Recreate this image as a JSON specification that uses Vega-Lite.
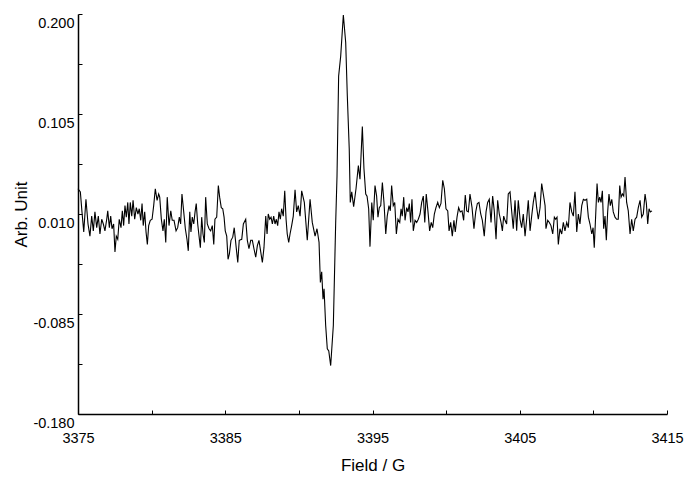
{
  "$schema": "https://vega.github.io/schema/vega-lite/v6.json",
  "width": 589,
  "height": 400,
  "autosize": "none",
  "padding": {"left": 78, "top": 14, "right": 24, "bottom": 65},
  "config": {"view": {"stroke": null}, "font": "Liberation Sans"},
  "data": {"values": [
    {"g":3375.00,"v":0.034},{"g":3375.16,"v":0.031},{"g":3375.27,"v":0.012},{"g":3375.39,"v":-0.007},{"g":3375.54,"v":0.024},{"g":3375.68,"v":0.0005},{"g":3375.81,"v":-0.011},{"g":3375.93,"v":0.008},{"g":3376.04,"v":-0.006},{"g":3376.15,"v":0.012},{"g":3376.27,"v":-0.003},{"g":3376.38,"v":0.008},{"g":3376.49,"v":-0.009},{"g":3376.61,"v":0.005},{"g":3376.72,"v":0.0005},{"g":3376.83,"v":-0.006},{"g":3376.95,"v":0.005},{"g":3377.02,"v":0.013},{"g":3377.13,"v":-0.003},{"g":3377.22,"v":0.008},{"g":3377.31,"v":-0.004},{"g":3377.42,"v":0.0005},{"g":3377.51,"v":-0.026},{"g":3377.60,"v":-0.011},{"g":3377.70,"v":-0.014},{"g":3377.80,"v":0.005},{"g":3377.92,"v":-0.003},{"g":3378.01,"v":0.013},{"g":3378.10,"v":-0.001},{"g":3378.19,"v":0.018},{"g":3378.28,"v":0.007},{"g":3378.38,"v":0.021},{"g":3378.46,"v":0.0005},{"g":3378.55,"v":0.021},{"g":3378.65,"v":0.008},{"g":3378.74,"v":0.023},{"g":3378.85,"v":0.005},{"g":3378.96,"v":0.016},{"g":3379.07,"v":0.010},{"g":3379.16,"v":0.015},{"g":3379.26,"v":0.004},{"g":3379.35,"v":0.020},{"g":3379.43,"v":-0.001},{"g":3379.53,"v":0.012},{"g":3379.62,"v":-0.007},{"g":3379.71,"v":-0.019},{"g":3379.80,"v":-0.001},{"g":3379.91,"v":0.004},{"g":3380.03,"v":0.005},{"g":3380.14,"v":0.018},{"g":3380.25,"v":0.034},{"g":3380.37,"v":0.023},{"g":3380.48,"v":0.029},
    {"g":3380.55,"v":0.026},{"g":3380.66,"v":0.005},{"g":3380.77,"v":-0.006},{"g":3380.86,"v":0.005},{"g":3380.96,"v":-0.017},{"g":3381.06,"v":0.026},{"g":3381.18,"v":-0.001},{"g":3381.30,"v":0.013},{"g":3381.40,"v":0.004},{"g":3381.52,"v":0.004},{"g":3381.66,"v":-0.006},{"g":3381.77,"v":-0.003},{"g":3381.88,"v":0.007},{"g":3381.97,"v":0.0005},{"g":3382.06,"v":0.029},{"g":3382.18,"v":0.012},{"g":3382.29,"v":-0.004},{"g":3382.40,"v":-0.014},{"g":3382.49,"v":-0.025},{"g":3382.59,"v":0.012},{"g":3382.67,"v":-0.007},{"g":3382.76,"v":0.007},{"g":3382.86,"v":0.0005},{"g":3382.95,"v":0.012},{"g":3383.03,"v":0.020},{"g":3383.13,"v":0.0005},{"g":3383.22,"v":-0.011},{"g":3383.31,"v":-0.022},{"g":3383.40,"v":0.007},{"g":3383.49,"v":-0.009},{"g":3383.58,"v":-0.017},{"g":3383.67,"v":0.026},{"g":3383.78,"v":0.0005},{"g":3383.90,"v":-0.004},{"g":3384.01,"v":-0.006},{"g":3384.12,"v":-0.001},{"g":3384.22,"v":-0.019},{"g":3384.30,"v":0.005},{"g":3384.42,"v":0.007},{"g":3384.53,"v":0.037},{"g":3384.62,"v":0.026},{"g":3384.73,"v":0.016},{"g":3384.83,"v":0.015},{"g":3384.92,"v":0.007},{"g":3385.00,"v":-0.006},{"g":3385.10,"v":-0.011},{"g":3385.19,"v":-0.033},{"g":3385.28,"v":-0.028},{"g":3385.39,"v":-0.015},{"g":3385.51,"v":-0.012},{"g":3385.61,"v":-0.003},{"g":3385.73,"v":-0.020},{"g":3385.85,"v":-0.036},{"g":3385.95,"v":-0.015},
    {"g":3386.12,"v":-0.014},{"g":3386.23,"v":0.0005},{"g":3386.39,"v":0.005},{"g":3386.50,"v":-0.015},{"g":3386.61,"v":-0.023},{"g":3386.73,"v":-0.015},{"g":3386.84,"v":-0.015},{"g":3386.95,"v":-0.023},{"g":3387.07,"v":-0.031},{"g":3387.18,"v":-0.020},{"g":3387.29,"v":-0.015},{"g":3387.41,"v":-0.026},{"g":3387.52,"v":-0.036},{"g":3387.63,"v":-0.022},{"g":3387.75,"v":0.008},{"g":3387.84,"v":-0.009},{"g":3387.92,"v":0.010},{"g":3388.02,"v":0.005},{"g":3388.11,"v":0.007},{"g":3388.20,"v":0.0005},{"g":3388.29,"v":0.008},{"g":3388.38,"v":0.0005},{"g":3388.47,"v":0.005},{"g":3388.56,"v":-0.001},{"g":3388.65,"v":0.012},{"g":3388.74,"v":0.005},{"g":3388.83,"v":0.015},{"g":3388.94,"v":0.008},{"g":3389.04,"v":0.032},{"g":3389.13,"v":0.005},{"g":3389.21,"v":-0.009},{"g":3389.31,"v":-0.017},{"g":3389.40,"v":-0.009},{"g":3389.51,"v":-0.001},{"g":3389.62,"v":0.008},{"g":3389.74,"v":0.033},{"g":3389.85,"v":0.012},{"g":3389.96,"v":0.018},{"g":3390.08,"v":0.008},{"g":3390.19,"v":0.032},{"g":3390.37,"v":0.021},{"g":3390.57,"v":-0.015},{"g":3390.76,"v":0.024},{"g":3390.91,"v":0.002},{"g":3391.10,"v":-0.011},{"g":3391.23,"v":-0.004},{"g":3391.37,"v":-0.017},{"g":3391.46,"v":-0.055},{"g":3391.55,"v":-0.045},{"g":3391.64,"v":-0.071},{"g":3391.71,"v":-0.061},{"g":3391.82,"v":-0.096},{"g":3391.93,"v":-0.118},{"g":3392.03,"v":-0.120},{"g":3392.16,"v":-0.134},{"g":3392.34,"v":-0.096},{"g":3392.50,"v":0.002},{"g":3392.59,"v":0.046},{"g":3392.70,"v":0.141},{"g":3392.84,"v":0.160},{"g":3393.02,"v":0.199},{"g":3393.18,"v":0.173},{"g":3393.29,"v":0.122},{"g":3393.42,"v":0.072},{"g":3393.49,"v":0.021},{"g":3393.59,"v":0.031},{"g":3393.72,"v":0.017},{"g":3393.88,"v":0.034},{"g":3394.04,"v":0.056},{"g":3394.15,"v":0.043},{"g":3394.31,"v":0.093},{"g":3394.42,"v":0.053},{"g":3394.54,"v":0.029},{"g":3394.63,"v":0.027},{"g":3394.74,"v":0.015},{"g":3394.83,"v":-0.021},{"g":3394.95,"v":0.021},{"g":3395.05,"v":0.004},{"g":3395.17,"v":0.037},{"g":3395.28,"v":0.027},{"g":3395.37,"v":0.007},{"g":3395.46,"v":0.016},{"g":3395.56,"v":0.018},{"g":3395.67,"v":0.040},{"g":3395.78,"v":0.021},{"g":3395.90,"v":-0.009},{"g":3396.00,"v":0.008},{"g":3396.12,"v":0.018},{"g":3396.21,"v":0.013},{"g":3396.30,"v":0.037},{"g":3396.41,"v":0.018},{"g":3396.51,"v":0.021},{"g":3396.62,"v":-0.009},{"g":3396.73,"v":0.005},{"g":3396.85,"v":0.002},{"g":3396.94,"v":0.015},{"g":3397.02,"v":0.008},{"g":3397.12,"v":0.026},{"g":3397.21,"v":0.004},{"g":3397.32,"v":0.016},{"g":3397.41,"v":0.012},{"g":3397.50,"v":0.020},{"g":3397.59,"v":0.002},{"g":3397.68,"v":0.024},{"g":3397.77,"v":-0.006},{"g":3397.89,"v":0.004},{"g":3398.00,"v":0.002},{"g":3398.11,"v":0.005},{"g":3398.23,"v":0.010},{"g":3398.34,"v":0.021},{"g":3398.45,"v":0.027},{"g":3398.55,"v":0.002},{"g":3398.65,"v":0.029},{"g":3398.77,"v":0.012},{"g":3398.88,"v":-0.006},{"g":3398.99,"v":0.002},{"g":3399.09,"v":-0.003},{"g":3399.20,"v":0.010},{"g":3399.31,"v":0.016},{"g":3399.43,"v":0.021},{"g":3399.54,"v":0.016},{"g":3399.65,"v":0.020},{"g":3399.77,"v":0.042},{"g":3399.88,"v":0.034},{"g":3399.99,"v":0.015},{"g":3400.11,"v":0.013},{"g":3400.20,"v":-0.006},{"g":3400.31,"v":0.002},{"g":3400.42,"v":-0.011},{"g":3400.53,"v":0.004},{"g":3400.62,"v":-0.007},{"g":3400.74,"v":0.007},{"g":3400.85,"v":0.016},{"g":3400.96,"v":0.012},{"g":3401.08,"v":0.013},{"g":3401.19,"v":0.004},{"g":3401.30,"v":0.028},{"g":3401.40,"v":0.013},{"g":3401.51,"v":0.012},{"g":3401.62,"v":0.029},{"g":3401.76,"v":0.016},{"g":3401.89,"v":-0.004},{"g":3402.01,"v":0.012},{"g":3402.12,"v":0.020},{"g":3402.23,"v":0.021},{"g":3402.35,"v":0.010},{"g":3402.46,"v":0.004},{"g":3402.59,"v":-0.011},{"g":3402.71,"v":0.012},{"g":3402.82,"v":0.021},{"g":3402.93,"v":0.024},{"g":3403.05,"v":0.002},{"g":3403.16,"v":0.027},{"g":3403.27,"v":0.013},{"g":3403.39,"v":-0.014},{"g":3403.50,"v":0.023},{"g":3403.61,"v":0.010},{"g":3403.73,"v":0.002},{"g":3403.82,"v":-0.006},{"g":3403.91,"v":0.008},{"g":3404.00,"v":0.004},{"g":3404.11,"v":0.0005},{"g":3404.22,"v":0.029},{"g":3404.34,"v":0.031},{"g":3404.45,"v":0.013},{"g":3404.56,"v":-0.004},{"g":3404.68,"v":0.023},{"g":3404.79,"v":-0.006},{"g":3404.90,"v":0.023},{"g":3405.02,"v":0.005},{"g":3405.13,"v":-0.003},{"g":3405.24,"v":0.010},{"g":3405.36,"v":-0.011},{"g":3405.47,"v":0.005},{"g":3405.58,"v":0.023},{"g":3405.70,"v":-0.006},{"g":3405.81,"v":0.008},{"g":3405.92,"v":0.021},{"g":3406.04,"v":0.031},{"g":3406.15,"v":0.016},{"g":3406.26,"v":0.005},{"g":3406.38,"v":0.016},{"g":3406.49,"v":0.039},{"g":3406.60,"v":0.029},{"g":3406.72,"v":0.018},{"g":3406.78,"v":-0.004},{"g":3406.90,"v":0.004},{"g":3407.01,"v":0.002},{"g":3407.12,"v":-0.001},{"g":3407.24,"v":-0.009},{"g":3407.35,"v":0.007},{"g":3407.44,"v":0.005},{"g":3407.53,"v":0.007},{"g":3407.62,"v":-0.019},{"g":3407.73,"v":-0.004},{"g":3407.85,"v":-0.009},{"g":3407.96,"v":0.002},{"g":3408.07,"v":-0.006},{"g":3408.19,"v":0.002},{"g":3408.30,"v":-0.003},{"g":3408.41,"v":0.021},{"g":3408.53,"v":0.012},{"g":3408.64,"v":0.008},{"g":3408.75,"v":0.031},{"g":3408.87,"v":-0.007},{"g":3408.98,"v":0.010},{"g":3409.09,"v":0.0005},{"g":3409.21,"v":0.018},{"g":3409.32,"v":0.024},{"g":3409.43,"v":0.023},{"g":3409.55,"v":0.024},{"g":3409.66,"v":0.007},{"g":3409.77,"v":0.0005},{"g":3409.89,"v":-0.009},{"g":3409.98,"v":-0.003},{"g":3410.06,"v":-0.022},{"g":3410.16,"v":0.010},{"g":3410.25,"v":0.039},{"g":3410.34,"v":0.021},{"g":3410.43,"v":0.026},{"g":3410.52,"v":0.021},{"g":3410.61,"v":0.032},{"g":3410.70,"v":-0.004},{"g":3410.79,"v":0.008},{"g":3410.88,"v":-0.015},{"g":3410.97,"v":0.012},{"g":3411.06,"v":0.029},{"g":3411.15,"v":0.018},{"g":3411.25,"v":0.024},{"g":3411.35,"v":0.012},{"g":3411.47,"v":0.007},{"g":3411.58,"v":0.005},{"g":3411.69,"v":0.005},{"g":3411.79,"v":0.037},{"g":3411.88,"v":0.026},{"g":3411.97,"v":0.029},{"g":3412.06,"v":0.027},{"g":3412.15,"v":0.045},{"g":3412.26,"v":0.021},{"g":3412.37,"v":0.013},{"g":3412.49,"v":-0.009},{"g":3412.60,"v":0.005},{"g":3412.71,"v":-0.006},{"g":3412.83,"v":0.005},{"g":3412.94,"v":0.007},{"g":3413.05,"v":0.016},{"g":3413.17,"v":0.023},{"g":3413.28,"v":0.007},{"g":3413.39,"v":0.010},{"g":3413.51,"v":0.029},{"g":3413.60,"v":0.020},{"g":3413.69,"v":0.0005},{"g":3413.78,"v":0.015},{"g":3413.87,"v":0.012},{"g":3413.98,"v":0.013}
  ]},
  "mark": {"type": "line", "color": "black", "strokeWidth": 1.1},
  "encoding": {
    "x": {
      "field": "g", "type": "quantitative",
      "scale": {"domain": [3375, 3415], "nice": false, "zero": false},
      "axis": {
        "title": "Field / G",
        "values": [3375, 3380, 3385, 3390, 3395, 3400, 3405, 3410, 3415],
        "labelExpr": "datum.value % 10 == 5 ? format(datum.value, 'd') : ''",
        "labelOverlap": false,
        "labelFlush": false,
        "grid": false,
        "domainColor": "black", "domainWidth": 1.5,
        "tickColor": "black", "tickWidth": 1, "tickSize": -4,
        "labelFont": "Liberation Sans", "labelFontSize": 14.5, "labelColor": "black",
        "labelPadding": 21,
        "titleFont": "Liberation Sans", "titleFontSize": 17, "titleFontWeight": "normal", "titleColor": "black",
        "titlePadding": 13
      }
    },
    "y": {
      "field": "v", "type": "quantitative",
      "scale": {"domain": [-0.18, 0.2], "nice": false, "zero": false},
      "axis": {
        "title": "Arb. Unit",
        "values": [-0.18, -0.1325, -0.085, -0.0375, 0.01, 0.0575, 0.105, 0.1525, 0.2],
        "labelExpr": "indexof([-0.18, -0.085, 0.01, 0.105, 0.2], datum.value) >= 0 ? replace(format(datum.value, '.3f'), '−', '-') : ''",
        "labelOverlap": false,
        "labelFlush": false,
        "grid": false,
        "domainColor": "black", "domainWidth": 1.5,
        "tickColor": "black", "tickWidth": 1, "tickSize": -4,
        "labelFont": "Liberation Sans", "labelFontSize": 14.5, "labelColor": "black",
        "labelPadding": 8, "labelOffset": 9,
        "titleFont": "Liberation Sans", "titleFontSize": 17, "titleFontWeight": "normal", "titleColor": "black",
        "titlePadding": 2
      }
    }
  }
}
